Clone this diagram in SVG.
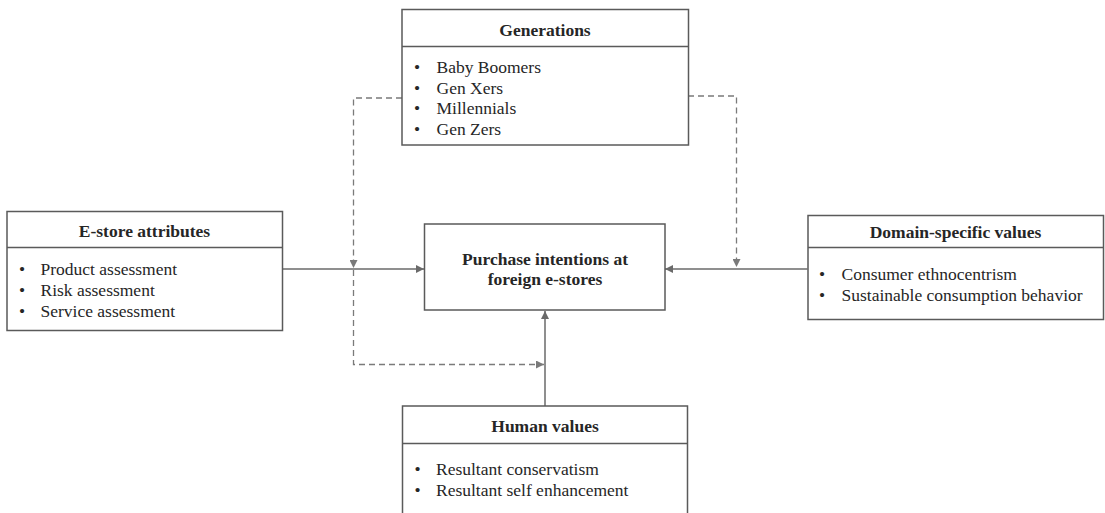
<svg xmlns="http://www.w3.org/2000/svg" width="1105" height="513" viewBox="0 0 1105 513">
<style>
.box{fill:#fff;stroke:#5a5a5a;stroke-width:1.5}
.div{stroke:#5a5a5a;stroke-width:1.5}
.t{font-family:"Liberation Serif","Times New Roman",serif;font-size:17.5px;fill:#262626}
.b{font-weight:bold;text-anchor:middle}
.c{fill:none;stroke:#6a6a6a;stroke-width:1.5}
.d{fill:none;stroke:#7a7a7a;stroke-width:1.3;stroke-dasharray:6 4}
</style>
<defs>
<marker id="ah" viewBox="0 0 10 10" refX="10" refY="5" markerWidth="8" markerHeight="8" markerUnits="userSpaceOnUse" orient="auto">
<path d="M0,0 L10,5 L0,10 z" fill="#6a6a6a"/>
</marker>
<marker id="ahd" viewBox="0 0 10 10" refX="10" refY="5" markerWidth="8" markerHeight="8" markerUnits="userSpaceOnUse" orient="auto">
<path d="M0,0 L10,5 L0,10 z" fill="#7a7a7a"/>
</marker>
</defs>
<rect width="1105" height="513" fill="#fff"/>
<g id="connectors">
<path class="c" d="M282.5,269 H424" marker-end="url(#ah)"/>
<path class="c" d="M807.5,269 H665" marker-end="url(#ah)"/>
<path class="c" d="M545,406 V311" marker-end="url(#ah)"/>
<path class="d" d="M402,98 H353.5 V268" marker-end="url(#ahd)"/>
<path class="d" d="M353.5,270 V364.5 H544" marker-end="url(#ahd)"/>
<path class="d" d="M688,96 H736.5 V267" marker-end="url(#ahd)"/>
</g>
<g id="generations">
<rect class="box" x="402" y="9.5" width="286.5" height="135.5"/>
<line class="div" x1="402" y1="46.5" x2="688.5" y2="46.5"/>
<text class="t b" x="545" y="35.5">Generations</text>
<text class="t" x="414" y="72.5">•</text><text class="t" x="436.5" y="72.5">Baby Boomers</text>
<text class="t" x="414" y="93.5">•</text><text class="t" x="436.5" y="93.5">Gen Xers</text>
<text class="t" x="414" y="114">•</text><text class="t" x="436.5" y="114">Millennials</text>
<text class="t" x="414" y="134.5">•</text><text class="t" x="436.5" y="134.5">Gen Zers</text>
</g>
<g id="estore">
<rect class="box" x="7" y="211.5" width="275.5" height="119"/>
<line class="div" x1="7" y1="247.5" x2="282.5" y2="247.5"/>
<text class="t b" x="144.5" y="236.5">E-store attributes</text>
<text class="t" x="19" y="275">•</text><text class="t" x="40.5" y="275">Product assessment</text>
<text class="t" x="19" y="296">•</text><text class="t" x="40.5" y="296">Risk assessment</text>
<text class="t" x="19" y="317">•</text><text class="t" x="40.5" y="317">Service assessment</text>
</g>
<g id="purchase">
<rect class="box" x="424.5" y="224" width="240.5" height="86"/>
<text class="t b" x="545" y="264.5">Purchase intentions at</text>
<text class="t b" x="545" y="285">foreign e-stores</text>
</g>
<g id="domain">
<rect class="box" x="808" y="215.5" width="295.5" height="104"/>
<line class="div" x1="808" y1="247.5" x2="1103.5" y2="247.5"/>
<text class="t b" x="955.5" y="238">Domain-specific values</text>
<text class="t" x="819" y="280">•</text><text class="t" x="841.5" y="280">Consumer ethnocentrism</text>
<text class="t" x="819" y="301">•</text><text class="t" x="841.5" y="301">Sustainable consumption behavior</text>
</g>
<g id="human">
<path class="box" d="M402.5,514 V406 H687.5 V514"/>
<line class="div" x1="402.5" y1="443.5" x2="687.5" y2="443.5"/>
<text class="t b" x="545" y="431.5">Human values</text>
<text class="t" x="414.5" y="475">•</text><text class="t" x="436" y="475">Resultant conservatism</text>
<text class="t" x="414.5" y="496">•</text><text class="t" x="436" y="496">Resultant self enhancement</text>
</g>
</svg>
